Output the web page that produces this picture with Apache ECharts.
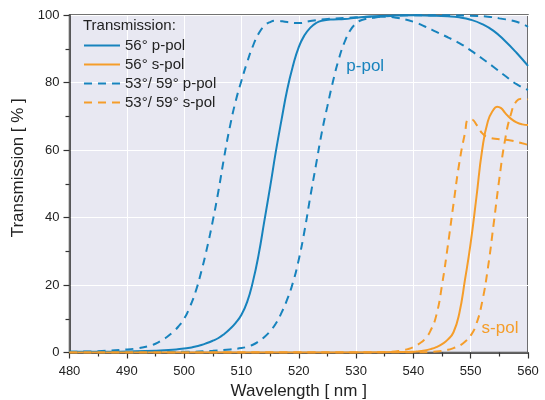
<!DOCTYPE html>
<html>
<head>
<meta charset="utf-8">
<title>Transmission</title>
<script src="https://cdn.jsdelivr.net/npm/echarts@6/dist/echarts.min.js"></script>
<style>
  html, body { margin: 0; padding: 0; background: #fff; }
  #main { width: 545px; height: 400px; }
</style>
</head>
<body>
<div id="main"></div>
<script>
// [wavelength nm, transmission %]
var p56 = [[480,0.2],[485,0.2],[490,0.3],[495,0.5],[498,0.8],[500,1.2],[501,1.4],[502,1.8],[503,2.2],[504,2.8],[505,3.5],[506,4.3],[507,5.5],[508,7],[509,8.8],[510,11.2],[511,15],[512,21],[513,29],[514,39],[515,49],[516,59.5],[517,69],[518,78],[519,85],[520,90.5],[521,94],[522,96.2],[523,97.6],[524,98.3],[526,98.7],[528,98.8],[530,99.2],[533,99.6],[536,99.8],[540,99.9],[543,99.8],[546,99.6],[548,99.3],[550,98.6],[552,97.3],[554,95.3],[556,92.3],[558,88.8],[560,84.9]];
var s56 = [[480,0],[520,0],[535,0.1],[540,0.2],[541,0.4],[542,0.6],[543,1],[544,1.6],[545,2.5],[546,3.8],[547,6],[548,11.5],[549,21.5],[550,32.5],[551,46],[552,60],[553,68.5],[554,72],[554.6,72.8],[555.3,72.4],[556,71],[557,69.3],[558,68.2],[559,67.6],[560,67.4]];
var p59 = [[480,0.2],[485,0.4],[490,0.9],[492,1.3],[494,2],[495,2.6],[496,3.5],[497,4.6],[498,6],[499,7.7],[500,10],[501,13.5],[502,18],[503,24],[504,31],[505,39],[506,48],[507,58],[508,67],[509,74.5],[510,80.5],[511,86],[512,90.8],[513,94.5],[514,96.8],[515,97.9],[516,98.3],[518,97.9],[520,97.6],[522,98.2],[525,98.8],[530,99.3],[535,99.5],[537,99.2],[540,98],[542,96.6],[544,95],[546,93.4],[548,91.7],[550,89.5],[552,87.1],[554,84.6],[556,82],[558,79.5],[560,77.8]];
var p53 = [[480,0.1],[490,0.1],[500,0.2],[505,0.5],[508,0.9],[510,1.3],[511,1.7],[512,2.3],[513,3.3],[514,4.6],[515,6.3],[516,8.6],[517,11.8],[518,15.8],[519,20.8],[520,27.5],[521,36],[522,46],[523,55.5],[524,65],[525,73],[526,80.5],[527,87],[528,92],[529,95.5],[530,97.5],[531,98.5],[533,99.2],[535,99.6],[540,99.9],[545,99.9],[550,99.8],[553,99.5],[555,99],[558,98],[560,96.5]];
var s59 = [[480,0],[530,0],[536,0.2],[538,0.6],[539,1],[540,1.6],[541,2.6],[542,4],[543,6.5],[544,11],[545,20],[546,31.5],[547,44],[548,56],[549,65],[549.6,69],[550.2,69],[551,67.5],[552,65],[553,63.8],[555,63.2],[557,62.8],[559,62],[560,61.5]];
var s53 = [[480,0],[540,0],[544,0.3],[546,0.8],[547,1.3],[548,2],[549,3.2],[550,5],[551,8.5],[552,15],[553,25],[554,38],[555,51.5],[556,63],[557,70.5],[558,74.5],[559,75.2],[560,75]];

var legendNames = ['56° p-pol', '56° s-pol', '53°/ 59° p-pol', '53°/ 59° s-pol'];

var blue = '#1783bd';
var orange = '#f59d2a';
var dash = [8, 6];

function line(name, data, color, dashed) {
  return {
    name: name,
    type: 'line',
    data: data,
    showSymbol: false,
    symbol: 'none',
    smooth: 0.5,
    lineStyle: { color: color, width: 2, type: dashed ? dash : 'solid' },
    itemStyle: { color: color }
  };
}

var chart = echarts.init(document.getElementById('main'));
chart.setOption({
  animation: false,
  textStyle: { fontFamily: 'Liberation Sans, Arial, sans-serif' },
  title: {
    text: 'Transmission:',
    left: 83, top: 18, padding: 0,
    textStyle: { fontSize: 15, fontWeight: 'normal', color: '#222' }
  },
  legend: {
    data: legendNames,
    orient: 'vertical',
    left: 83, top: 38, padding: 0,
    itemWidth: 36, itemHeight: 14, itemGap: 4,
    itemStyle: { opacity: 0 },
    textStyle: { fontSize: 15, color: '#222' }
  },
  grid: {
    left: 69.5, right: 17, top: 15, bottom: 47.5,
    outerBoundsMode: 'none', containLabel: false,
    show: true, backgroundColor: '#e8e8f2',
    borderColor: '#444', borderWidth: 1.5
  },
  xAxis: {
    type: 'value', min: 480, max: 560, interval: 10,
    name: 'Wavelength [ nm ]', nameLocation: 'middle', nameGap: 29,
    nameTextStyle: { fontSize: 17, color: '#222' },
    axisLine: { lineStyle: { color: '#333', width: 1.5 } },
    axisTick: { length: 6, lineStyle: { color: '#333', width: 1.2 } },
    minorTick: { show: true, splitNumber: 2, length: 4, lineStyle: { color: '#333', width: 1.2 } },
    axisLabel: { fontSize: 13, color: '#222', margin: 12 },
    splitLine: { show: true, lineStyle: { color: '#fff', width: 1 } }
  },
  yAxis: {
    type: 'value', min: 0, max: 100, interval: 20,
    name: 'Transmission [ % ]', nameLocation: 'middle', nameGap: 28,
    nameTextStyle: { fontSize: 17, color: '#222', padding: [0, 0, 0, 32] },
    axisLine: { show: true, lineStyle: { color: '#333', width: 1.5 } },
    axisTick: { show: true, length: 6, lineStyle: { color: '#333', width: 1.2 } },
    minorTick: { show: true, splitNumber: 2, length: 4, lineStyle: { color: '#333', width: 1.2 } },
    axisLabel: { fontSize: 13, color: '#222', margin: 10 },
    splitLine: { show: true, lineStyle: { color: '#fff', width: 1 } }
  },
  series: [
    line('56° p-pol', p56, blue, false),
    line('56° s-pol', s56, orange, false),
    line('53°/ 59° p-pol', p59, blue, true),
    line('53°/ 59° p-pol', p53, blue, true),
    line('53°/ 59° s-pol', s59, orange, true),
    line('53°/ 59° s-pol', s53, orange, true)
  ]
});

// curve annotations, placed in data coordinates
var pPos = chart.convertToPixel({ gridIndex: 0 }, [528.3, 84.7]);
var sPos = chart.convertToPixel({ gridIndex: 0 }, [551.9, 7.3]);
chart.setOption({
  graphic: [
    { type: 'text', x: pPos[0], y: pPos[1], style: { text: 'p-pol', fill: blue, font: '17px Liberation Sans, Arial, sans-serif', verticalAlign: 'middle' } },
    { type: 'text', x: sPos[0], y: sPos[1], style: { text: 's-pol', fill: orange, font: '17px Liberation Sans, Arial, sans-serif', verticalAlign: 'middle' } }
  ]
});
</script>
</body>
</html>
